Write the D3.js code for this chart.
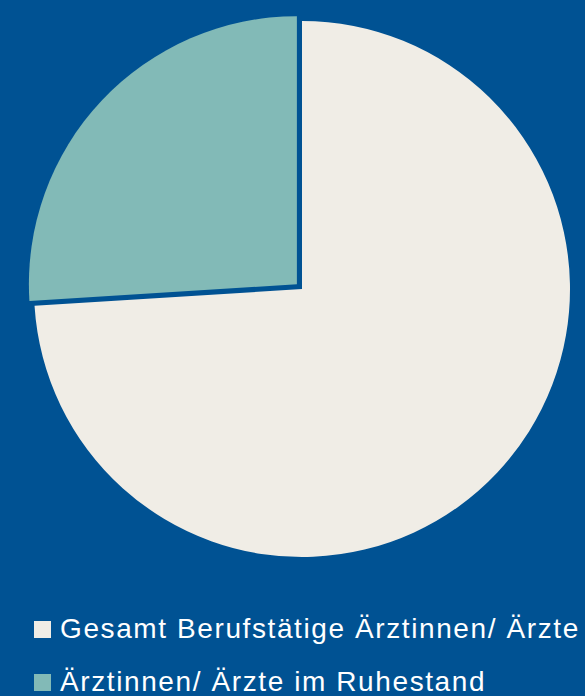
<!DOCTYPE html>
<html>
<head>
<meta charset="utf-8">
<script src="https://cdn.jsdelivr.net/npm/d3@7"></script>
<style>
  html, body { margin: 0; padding: 0; background: #005293; }
  svg { display: block; }
</style>
</head>
<body>
<svg id="chart" width="585" height="696"></svg>
<script>
// data (share in percent)
const categories = ["Gesamt Berufstätige Ärztinnen/ Ärzte", "Ärztinnen/ Ärzte im Ruhestand"];
const shares = [74, 26];
const colors = ["#f0ede6", "#82bab7"];
const exploded = [false, true];

const width = 585, height = 696;
const cx = 302, cy = 289, radius = 268;

const svg = d3.select("#chart");

svg.append("rect")
   .attr("width", width)
   .attr("height", height)
   .attr("fill", "#005293");

const data = categories.map((c, i) => ({ name: c, value: shares[i], color: colors[i], explode: exploded[i] }));

const pie = d3.pie().value(d => d.value).sort(null);
const arc = d3.arc().innerRadius(0).outerRadius(radius);

const pieGroup = svg.append("g").attr("transform", `translate(${cx},${cy})`);

pieGroup.selectAll("path")
   .data(pie(data))
   .enter()
   .append("path")
   .attr("d", arc)
   .attr("fill", d => d.data.color)
   .attr("transform", d => {
       if (!d.data.explode) return null;
       const mid = (d.startAngle + d.endAngle) / 2;
       const off = 7;
       return `translate(${Math.sin(mid) * off},${-Math.cos(mid) * off})`;
   });

// legend
const legend = svg.append("g").attr("class", "legend");
const rows = legend.selectAll("g")
   .data(data)
   .enter()
   .append("g")
   .attr("transform", (d, i) => `translate(34,${621 + i * 53})`);

rows.append("rect")
    .attr("width", 17)
    .attr("height", 17)
    .attr("fill", d => d.color);

rows.append("text")
    .attr("x", 26)
    .attr("y", 17)
    .attr("fill", "#ffffff")
    .style("font-family", "'Liberation Sans', Arial, sans-serif")
    .style("font-size", "28px")
    .style("letter-spacing", "1.6px")
    .text(d => d.name);
</script>
</body>
</html>
